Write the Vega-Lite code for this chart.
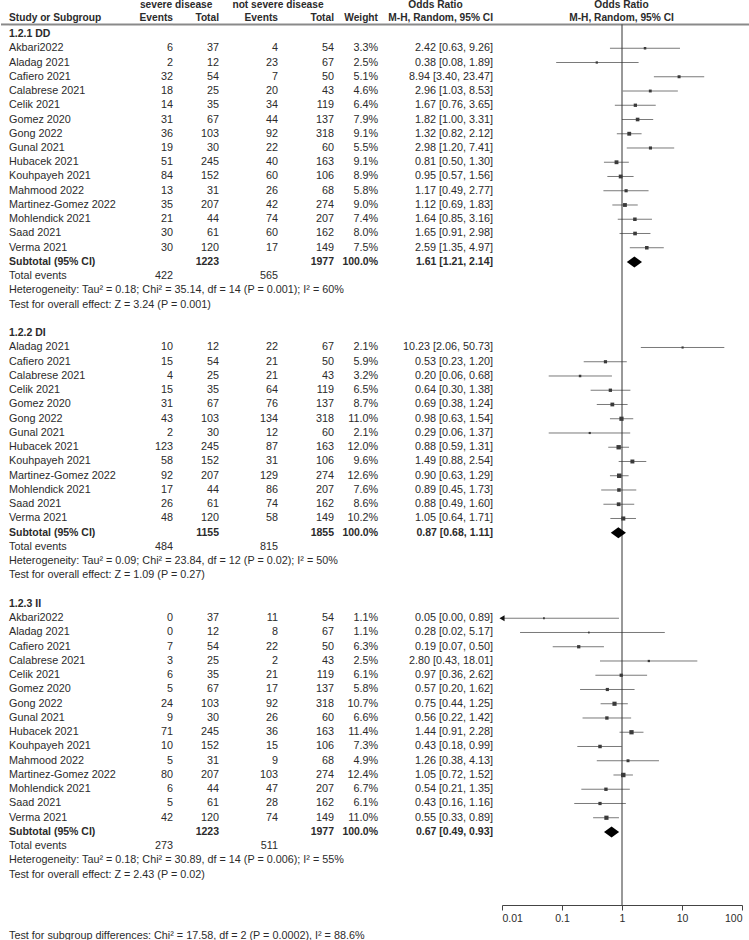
{
"$schema": "https://vega.github.io/schema/vega-lite/v6.json",
"padding": 0,
"autosize": {"type": "pad"},
"spacing": 0,
"bounds": "flush",
"config": {"view": {"stroke": null}, "text": {"font": "Liberation Sans", "fontSize": 10.8, "fill": "#2b2b2b", "baseline": "middle"}},
"datasets": {
"one": [{}],
"groups": [{"row": 0, "label": "1.2.1 DD"}, {"row": 21, "label": "1.2.2 DI"}, {"row": 40, "label": "1.2.3 II"}],
"studies": [
{"row":1,"study":"Akbari2022","e1":6,"t1":37,"e2":4,"t2":54,"w":3.3,"or":2.42,"lo":0.63,"hi":9.26},
{"row":2,"study":"Aladag 2021","e1":2,"t1":12,"e2":23,"t2":67,"w":2.5,"or":0.38,"lo":0.08,"hi":1.89},
{"row":3,"study":"Cafiero 2021","e1":32,"t1":54,"e2":7,"t2":50,"w":5.1,"or":8.94,"lo":3.40,"hi":23.47},
{"row":4,"study":"Calabrese 2021","e1":18,"t1":25,"e2":20,"t2":43,"w":4.6,"or":2.96,"lo":1.03,"hi":8.53},
{"row":5,"study":"Celik 2021","e1":14,"t1":35,"e2":34,"t2":119,"w":6.4,"or":1.67,"lo":0.76,"hi":3.65},
{"row":6,"study":"Gomez 2020","e1":31,"t1":67,"e2":44,"t2":137,"w":7.9,"or":1.82,"lo":1.00,"hi":3.31},
{"row":7,"study":"Gong 2022","e1":36,"t1":103,"e2":92,"t2":318,"w":9.1,"or":1.32,"lo":0.82,"hi":2.12},
{"row":8,"study":"Gunal 2021","e1":19,"t1":30,"e2":22,"t2":60,"w":5.5,"or":2.98,"lo":1.20,"hi":7.41},
{"row":9,"study":"Hubacek 2021","e1":51,"t1":245,"e2":40,"t2":163,"w":9.1,"or":0.81,"lo":0.50,"hi":1.30},
{"row":10,"study":"Kouhpayeh 2021","e1":84,"t1":152,"e2":60,"t2":106,"w":8.9,"or":0.95,"lo":0.57,"hi":1.56},
{"row":11,"study":"Mahmood 2022","e1":13,"t1":31,"e2":26,"t2":68,"w":5.8,"or":1.17,"lo":0.49,"hi":2.77},
{"row":12,"study":"Martinez-Gomez 2022","e1":35,"t1":207,"e2":42,"t2":274,"w":9.0,"or":1.12,"lo":0.69,"hi":1.83},
{"row":13,"study":"Mohlendick 2021","e1":21,"t1":44,"e2":74,"t2":207,"w":7.4,"or":1.64,"lo":0.85,"hi":3.16},
{"row":14,"study":"Saad 2021","e1":30,"t1":61,"e2":60,"t2":162,"w":8.0,"or":1.65,"lo":0.91,"hi":2.98},
{"row":15,"study":"Verma 2021","e1":30,"t1":120,"e2":17,"t2":149,"w":7.5,"or":2.59,"lo":1.35,"hi":4.97},
{"row":22,"study":"Aladag 2021","e1":10,"t1":12,"e2":22,"t2":67,"w":2.1,"or":10.23,"lo":2.06,"hi":50.73},
{"row":23,"study":"Cafiero 2021","e1":15,"t1":54,"e2":21,"t2":50,"w":5.9,"or":0.53,"lo":0.23,"hi":1.20},
{"row":24,"study":"Calabrese 2021","e1":4,"t1":25,"e2":21,"t2":43,"w":3.2,"or":0.20,"lo":0.06,"hi":0.68},
{"row":25,"study":"Celik 2021","e1":15,"t1":35,"e2":64,"t2":119,"w":6.5,"or":0.64,"lo":0.30,"hi":1.38},
{"row":26,"study":"Gomez 2020","e1":31,"t1":67,"e2":76,"t2":137,"w":8.7,"or":0.69,"lo":0.38,"hi":1.24},
{"row":27,"study":"Gong 2022","e1":43,"t1":103,"e2":134,"t2":318,"w":11.0,"or":0.98,"lo":0.63,"hi":1.54},
{"row":28,"study":"Gunal 2021","e1":2,"t1":30,"e2":12,"t2":60,"w":2.1,"or":0.29,"lo":0.06,"hi":1.37},
{"row":29,"study":"Hubacek 2021","e1":123,"t1":245,"e2":87,"t2":163,"w":12.0,"or":0.88,"lo":0.59,"hi":1.31},
{"row":30,"study":"Kouhpayeh 2021","e1":58,"t1":152,"e2":31,"t2":106,"w":9.6,"or":1.49,"lo":0.88,"hi":2.54},
{"row":31,"study":"Martinez-Gomez 2022","e1":92,"t1":207,"e2":129,"t2":274,"w":12.6,"or":0.90,"lo":0.63,"hi":1.29},
{"row":32,"study":"Mohlendick 2021","e1":17,"t1":44,"e2":86,"t2":207,"w":7.6,"or":0.89,"lo":0.45,"hi":1.73},
{"row":33,"study":"Saad 2021","e1":26,"t1":61,"e2":74,"t2":162,"w":8.6,"or":0.88,"lo":0.49,"hi":1.60},
{"row":34,"study":"Verma 2021","e1":48,"t1":120,"e2":58,"t2":149,"w":10.2,"or":1.05,"lo":0.64,"hi":1.71},
{"row":41,"study":"Akbari2022","e1":0,"t1":37,"e2":11,"t2":54,"w":1.1,"or":0.05,"lo":0.003,"hi":0.89},
{"row":42,"study":"Aladag 2021","e1":0,"t1":12,"e2":8,"t2":67,"w":1.1,"or":0.28,"lo":0.02,"hi":5.17},
{"row":43,"study":"Cafiero 2021","e1":7,"t1":54,"e2":22,"t2":50,"w":6.3,"or":0.19,"lo":0.07,"hi":0.50},
{"row":44,"study":"Calabrese 2021","e1":3,"t1":25,"e2":2,"t2":43,"w":2.5,"or":2.80,"lo":0.43,"hi":18.01},
{"row":45,"study":"Celik 2021","e1":6,"t1":35,"e2":21,"t2":119,"w":6.1,"or":0.97,"lo":0.36,"hi":2.62},
{"row":46,"study":"Gomez 2020","e1":5,"t1":67,"e2":17,"t2":137,"w":5.8,"or":0.57,"lo":0.20,"hi":1.62},
{"row":47,"study":"Gong 2022","e1":24,"t1":103,"e2":92,"t2":318,"w":10.7,"or":0.75,"lo":0.44,"hi":1.25},
{"row":48,"study":"Gunal 2021","e1":9,"t1":30,"e2":26,"t2":60,"w":6.6,"or":0.56,"lo":0.22,"hi":1.42},
{"row":49,"study":"Hubacek 2021","e1":71,"t1":245,"e2":36,"t2":163,"w":11.4,"or":1.44,"lo":0.91,"hi":2.28},
{"row":50,"study":"Kouhpayeh 2021","e1":10,"t1":152,"e2":15,"t2":106,"w":7.3,"or":0.43,"lo":0.18,"hi":0.99},
{"row":51,"study":"Mahmood 2022","e1":5,"t1":31,"e2":9,"t2":68,"w":4.9,"or":1.26,"lo":0.38,"hi":4.13},
{"row":52,"study":"Martinez-Gomez 2022","e1":80,"t1":207,"e2":103,"t2":274,"w":12.4,"or":1.05,"lo":0.72,"hi":1.52},
{"row":53,"study":"Mohlendick 2021","e1":6,"t1":44,"e2":47,"t2":207,"w":6.7,"or":0.54,"lo":0.21,"hi":1.35},
{"row":54,"study":"Saad 2021","e1":5,"t1":61,"e2":28,"t2":162,"w":6.1,"or":0.43,"lo":0.16,"hi":1.16},
{"row":55,"study":"Verma 2021","e1":42,"t1":120,"e2":74,"t2":149,"w":11.0,"or":0.55,"lo":0.33,"hi":0.89}
],
"subtotals": [
{"row":16,"t1":1223,"t2":1977,"w":100,"or":1.61,"lo":1.21,"hi":2.14},
{"row":35,"t1":1155,"t2":1855,"w":100,"or":0.87,"lo":0.68,"hi":1.11},
{"row":56,"t1":1223,"t2":1977,"w":100,"or":0.67,"lo":0.49,"hi":0.93}
],
"totals": [
{"row":17,"e1":422,"e2":565},
{"row":36,"e1":484,"e2":815},
{"row":57,"e1":273,"e2":511}
],
"notes": [
{"row":17,"text":"Total events"},
{"row":18,"text":"Heterogeneity: Tau² = 0.18; Chi² = 35.14, df = 14 (P = 0.001); I² = 60%"},
{"row":19,"text":"Test for overall effect: Z = 3.24 (P = 0.001)"},
{"row":36,"text":"Total events"},
{"row":37,"text":"Heterogeneity: Tau² = 0.09; Chi² = 23.84, df = 12 (P = 0.02); I² = 50%"},
{"row":38,"text":"Test for overall effect: Z = 1.09 (P = 0.27)"},
{"row":57,"text":"Total events"},
{"row":58,"text":"Heterogeneity: Tau² = 0.18; Chi² = 30.89, df = 14 (P = 0.006); I² = 55%"},
{"row":59,"text":"Test for overall effect: Z = 2.43 (P = 0.02)"},
{"row":63.3,"text":"Test for subgroup differences: Chi² = 17.58, df = 2 (P = 0.0002), I² = 88.6%"}
]
},
"data": {"name": "one"},
"hconcat": [
{"width": 8, "height": 905, "layer": [
 {"mark": {"type": "rule", "color": "#8a8a8a", "strokeWidth": 2}, "encoding": {"y": {"datum": -0.67, "type": "quantitative", "scale": {"domain": [-2.386, 61.123], "reverse": true, "nice": false, "zero": false}, "axis": null}}}
]},
{"width": 132, "height": 905, "layer": [
 {"mark": {"type": "rule", "color": "#8a8a8a", "strokeWidth": 2}, "encoding": {"y": {"datum": -0.67, "type": "quantitative", "scale": {"domain": [-2.386, 61.123], "reverse": true, "nice": false, "zero": false}, "axis": null}}},
 {"mark": {"type": "text", "text": "Study or Subgroup", "align": "left", "fontWeight": "bold", "fontSize": 10.2}, "encoding": {"x": {"datum": 0, "type": "quantitative", "scale": {"domain": [0, 1], "nice": false, "zero": false}, "axis": null}, "y": {"datum": -1.09, "type": "quantitative", "scale": {"domain": [-2.386, 61.123], "reverse": true, "nice": false, "zero": false}, "axis": null}}},
 {"data": {"name": "groups"}, "mark": {"type": "text", "align": "left", "fontWeight": "bold", "fontSize": 10.5}, "encoding": {"text": {"field": "label"}, "x": {"datum": 0, "type": "quantitative", "scale": {"domain": [0, 1], "nice": false, "zero": false}, "axis": null}, "y": {"field": "row", "type": "quantitative", "scale": {"domain": [-2.386, 61.123], "reverse": true, "nice": false, "zero": false}, "axis": null}}},
 {"data": {"name": "studies"}, "mark": {"type": "text", "align": "left"}, "encoding": {"text": {"field": "study"}, "x": {"datum": 0, "type": "quantitative", "scale": {"domain": [0, 1], "nice": false, "zero": false}, "axis": null}, "y": {"field": "row", "type": "quantitative", "scale": {"domain": [-2.386, 61.123], "reverse": true, "nice": false, "zero": false}, "axis": null}}},
 {"data": {"name": "subtotals"}, "mark": {"type": "text", "align": "left", "fontWeight": "bold", "fontSize": 10.5, "text": "Subtotal (95% CI)"}, "encoding": {"x": {"datum": 0, "type": "quantitative", "scale": {"domain": [0, 1], "nice": false, "zero": false}, "axis": null}, "y": {"field": "row", "type": "quantitative", "scale": {"domain": [-2.386, 61.123], "reverse": true, "nice": false, "zero": false}, "axis": null}}},
 {"data": {"name": "notes"}, "mark": {"type": "text", "align": "left"}, "encoding": {"text": {"field": "text"}, "x": {"datum": 0, "type": "quantitative", "scale": {"domain": [0, 1], "nice": false, "zero": false}, "axis": null}, "y": {"field": "row", "type": "quantitative", "scale": {"domain": [-2.386, 61.123], "reverse": true, "nice": false, "zero": false}, "axis": null}}}
]},
{"width": 32, "height": 905, "layer": [
 {"mark": {"type": "rule", "color": "#8a8a8a", "strokeWidth": 2}, "encoding": {"y": {"datum": -0.67, "type": "quantitative", "scale": {"domain": [-2.386, 61.123], "reverse": true, "nice": false, "zero": false}, "axis": null}}},
 {"mark": {"type": "text", "text": "Events", "align": "right", "fontWeight": "bold", "fontSize": 10.2}, "encoding": {"x": {"datum": 1, "type": "quantitative", "scale": {"domain": [0, 1], "nice": false, "zero": false}, "axis": null}, "y": {"datum": -1.09, "type": "quantitative", "scale": {"domain": [-2.386, 61.123], "reverse": true, "nice": false, "zero": false}, "axis": null}}},
 {"mark": {"type": "text", "text": "severe disease", "align": "center", "fontWeight": "bold", "fontSize": 10.2}, "encoding": {"x": {"datum": 1.1, "type": "quantitative", "scale": {"domain": [0, 1], "nice": false, "zero": false}, "axis": null}, "y": {"datum": -2.03, "type": "quantitative", "scale": {"domain": [-2.386, 61.123], "reverse": true, "nice": false, "zero": false}, "axis": null}}},
 {"data": {"name": "studies"}, "mark": {"type": "text", "align": "right"}, "encoding": {"text": {"field": "e1"}, "x": {"datum": 1, "type": "quantitative", "scale": {"domain": [0, 1], "nice": false, "zero": false}, "axis": null}, "y": {"field": "row", "type": "quantitative", "scale": {"domain": [-2.386, 61.123], "reverse": true, "nice": false, "zero": false}, "axis": null}}},
 {"data": {"name": "totals"}, "mark": {"type": "text", "align": "right"}, "encoding": {"text": {"field": "e1"}, "x": {"datum": 1, "type": "quantitative", "scale": {"domain": [0, 1], "nice": false, "zero": false}, "axis": null}, "y": {"field": "row", "type": "quantitative", "scale": {"domain": [-2.386, 61.123], "reverse": true, "nice": false, "zero": false}, "axis": null}}}
]},
{"width": 46, "height": 905, "layer": [
 {"mark": {"type": "rule", "color": "#8a8a8a", "strokeWidth": 2}, "encoding": {"y": {"datum": -0.67, "type": "quantitative", "scale": {"domain": [-2.386, 61.123], "reverse": true, "nice": false, "zero": false}, "axis": null}}},
 {"mark": {"type": "text", "text": "Total", "align": "right", "fontWeight": "bold", "fontSize": 10.2}, "encoding": {"x": {"datum": 1, "type": "quantitative", "scale": {"domain": [0, 1], "nice": false, "zero": false}, "axis": null}, "y": {"datum": -1.09, "type": "quantitative", "scale": {"domain": [-2.386, 61.123], "reverse": true, "nice": false, "zero": false}, "axis": null}}},
 {"data": {"name": "studies"}, "mark": {"type": "text", "align": "right"}, "encoding": {"text": {"field": "t1"}, "x": {"datum": 1, "type": "quantitative", "scale": {"domain": [0, 1], "nice": false, "zero": false}, "axis": null}, "y": {"field": "row", "type": "quantitative", "scale": {"domain": [-2.386, 61.123], "reverse": true, "nice": false, "zero": false}, "axis": null}}},
 {"data": {"name": "subtotals"}, "mark": {"type": "text", "align": "right", "fontWeight": "bold", "fontSize": 10.5}, "encoding": {"text": {"field": "t1"}, "x": {"datum": 1, "type": "quantitative", "scale": {"domain": [0, 1], "nice": false, "zero": false}, "axis": null}, "y": {"field": "row", "type": "quantitative", "scale": {"domain": [-2.386, 61.123], "reverse": true, "nice": false, "zero": false}, "axis": null}}}
]},
{"width": 59, "height": 905, "layer": [
 {"mark": {"type": "rule", "color": "#8a8a8a", "strokeWidth": 2}, "encoding": {"y": {"datum": -0.67, "type": "quantitative", "scale": {"domain": [-2.386, 61.123], "reverse": true, "nice": false, "zero": false}, "axis": null}}},
 {"mark": {"type": "text", "text": "Events", "align": "right", "fontWeight": "bold", "fontSize": 10.2}, "encoding": {"x": {"datum": 1, "type": "quantitative", "scale": {"domain": [0, 1], "nice": false, "zero": false}, "axis": null}, "y": {"datum": -1.09, "type": "quantitative", "scale": {"domain": [-2.386, 61.123], "reverse": true, "nice": false, "zero": false}, "axis": null}}},
 {"mark": {"type": "text", "text": "not severe disease", "align": "center", "fontWeight": "bold", "fontSize": 10.2}, "encoding": {"x": {"datum": 1, "type": "quantitative", "scale": {"domain": [0, 1], "nice": false, "zero": false}, "axis": null}, "y": {"datum": -2.03, "type": "quantitative", "scale": {"domain": [-2.386, 61.123], "reverse": true, "nice": false, "zero": false}, "axis": null}}},
 {"data": {"name": "studies"}, "mark": {"type": "text", "align": "right"}, "encoding": {"text": {"field": "e2"}, "x": {"datum": 1, "type": "quantitative", "scale": {"domain": [0, 1], "nice": false, "zero": false}, "axis": null}, "y": {"field": "row", "type": "quantitative", "scale": {"domain": [-2.386, 61.123], "reverse": true, "nice": false, "zero": false}, "axis": null}}},
 {"data": {"name": "totals"}, "mark": {"type": "text", "align": "right"}, "encoding": {"text": {"field": "e2"}, "x": {"datum": 1, "type": "quantitative", "scale": {"domain": [0, 1], "nice": false, "zero": false}, "axis": null}, "y": {"field": "row", "type": "quantitative", "scale": {"domain": [-2.386, 61.123], "reverse": true, "nice": false, "zero": false}, "axis": null}}}
]},
{"width": 56, "height": 905, "layer": [
 {"mark": {"type": "rule", "color": "#8a8a8a", "strokeWidth": 2}, "encoding": {"y": {"datum": -0.67, "type": "quantitative", "scale": {"domain": [-2.386, 61.123], "reverse": true, "nice": false, "zero": false}, "axis": null}}},
 {"mark": {"type": "text", "text": "Total", "align": "right", "fontWeight": "bold", "fontSize": 10.2}, "encoding": {"x": {"datum": 1, "type": "quantitative", "scale": {"domain": [0, 1], "nice": false, "zero": false}, "axis": null}, "y": {"datum": -1.09, "type": "quantitative", "scale": {"domain": [-2.386, 61.123], "reverse": true, "nice": false, "zero": false}, "axis": null}}},
 {"data": {"name": "studies"}, "mark": {"type": "text", "align": "right"}, "encoding": {"text": {"field": "t2"}, "x": {"datum": 1, "type": "quantitative", "scale": {"domain": [0, 1], "nice": false, "zero": false}, "axis": null}, "y": {"field": "row", "type": "quantitative", "scale": {"domain": [-2.386, 61.123], "reverse": true, "nice": false, "zero": false}, "axis": null}}},
 {"data": {"name": "subtotals"}, "mark": {"type": "text", "align": "right", "fontWeight": "bold", "fontSize": 10.5}, "encoding": {"text": {"field": "t2"}, "x": {"datum": 1, "type": "quantitative", "scale": {"domain": [0, 1], "nice": false, "zero": false}, "axis": null}, "y": {"field": "row", "type": "quantitative", "scale": {"domain": [-2.386, 61.123], "reverse": true, "nice": false, "zero": false}, "axis": null}}}
]},
{"width": 44, "height": 905, "layer": [
 {"mark": {"type": "rule", "color": "#8a8a8a", "strokeWidth": 2}, "encoding": {"y": {"datum": -0.67, "type": "quantitative", "scale": {"domain": [-2.386, 61.123], "reverse": true, "nice": false, "zero": false}, "axis": null}}},
 {"mark": {"type": "text", "text": "Weight", "align": "right", "fontWeight": "bold", "fontSize": 10.2}, "encoding": {"x": {"datum": 1, "type": "quantitative", "scale": {"domain": [0, 1], "nice": false, "zero": false}, "axis": null}, "y": {"datum": -1.09, "type": "quantitative", "scale": {"domain": [-2.386, 61.123], "reverse": true, "nice": false, "zero": false}, "axis": null}}},
 {"data": {"name": "studies"}, "transform": [{"calculate": "format(datum.w, '.1f') + '%'", "as": "wt"}], "mark": {"type": "text", "align": "right"}, "encoding": {"text": {"field": "wt"}, "x": {"datum": 1, "type": "quantitative", "scale": {"domain": [0, 1], "nice": false, "zero": false}, "axis": null}, "y": {"field": "row", "type": "quantitative", "scale": {"domain": [-2.386, 61.123], "reverse": true, "nice": false, "zero": false}, "axis": null}}},
 {"data": {"name": "subtotals"}, "transform": [{"calculate": "format(datum.w, '.1f') + '%'", "as": "wt"}], "mark": {"type": "text", "align": "right", "fontWeight": "bold", "fontSize": 10.5}, "encoding": {"text": {"field": "wt"}, "x": {"datum": 1, "type": "quantitative", "scale": {"domain": [0, 1], "nice": false, "zero": false}, "axis": null}, "y": {"field": "row", "type": "quantitative", "scale": {"domain": [-2.386, 61.123], "reverse": true, "nice": false, "zero": false}, "axis": null}}}
]},
{"width": 115, "height": 905, "layer": [
 {"mark": {"type": "rule", "color": "#8a8a8a", "strokeWidth": 2}, "encoding": {"y": {"datum": -0.67, "type": "quantitative", "scale": {"domain": [-2.386, 61.123], "reverse": true, "nice": false, "zero": false}, "axis": null}}},
 {"mark": {"type": "text", "text": "Odds Ratio", "align": "center", "fontWeight": "bold", "fontSize": 10.2}, "encoding": {"y": {"datum": -2.03, "type": "quantitative", "scale": {"domain": [-2.386, 61.123], "reverse": true, "nice": false, "zero": false}, "axis": null}}},
 {"mark": {"type": "text", "text": "M-H, Random, 95% CI", "align": "right", "fontWeight": "bold", "fontSize": 10.2}, "encoding": {"x": {"datum": 1, "type": "quantitative", "scale": {"domain": [0, 1], "nice": false, "zero": false}, "axis": null}, "y": {"datum": -1.09, "type": "quantitative", "scale": {"domain": [-2.386, 61.123], "reverse": true, "nice": false, "zero": false}, "axis": null}}},
 {"data": {"name": "studies"}, "transform": [{"calculate": "format(datum.or, '.2f') + ' [' + format(datum.lo, '.2f') + ', ' + format(datum.hi, '.2f') + ']'", "as": "ci"}], "mark": {"type": "text", "align": "right"}, "encoding": {"text": {"field": "ci"}, "x": {"datum": 1, "type": "quantitative", "scale": {"domain": [0, 1], "nice": false, "zero": false}, "axis": null}, "y": {"field": "row", "type": "quantitative", "scale": {"domain": [-2.386, 61.123], "reverse": true, "nice": false, "zero": false}, "axis": null}}},
 {"data": {"name": "subtotals"}, "transform": [{"calculate": "format(datum.or, '.2f') + ' [' + format(datum.lo, '.2f') + ', ' + format(datum.hi, '.2f') + ']'", "as": "ci"}], "mark": {"type": "text", "align": "right", "fontWeight": "bold", "fontSize": 10.5}, "encoding": {"text": {"field": "ci"}, "x": {"datum": 1, "type": "quantitative", "scale": {"domain": [0, 1], "nice": false, "zero": false}, "axis": null}, "y": {"field": "row", "type": "quantitative", "scale": {"domain": [-2.386, 61.123], "reverse": true, "nice": false, "zero": false}, "axis": null}}}
]},
{"width": 257, "height": 905, "layer": [
 {"mark": {"type": "rule", "color": "#8a8a8a", "strokeWidth": 2}, "encoding": {"y": {"datum": -0.67, "type": "quantitative", "scale": {"domain": [-2.386, 61.123], "reverse": true, "nice": false, "zero": false}, "axis": null}}},
 {"mark": {"type": "text", "text": "Odds Ratio", "align": "center", "fontWeight": "bold", "fontSize": 10.2}, "encoding": {"y": {"datum": -2.03, "type": "quantitative", "scale": {"domain": [-2.386, 61.123], "reverse": true, "nice": false, "zero": false}, "axis": null}}},
 {"mark": {"type": "text", "text": "M-H, Random, 95% CI", "align": "center", "fontWeight": "bold", "fontSize": 10.2}, "encoding": {"y": {"datum": -1.09, "type": "quantitative", "scale": {"domain": [-2.386, 61.123], "reverse": true, "nice": false, "zero": false}, "axis": null}}},
 {"data": {"name": "studies"}, "mark": {"type": "rule", "color": "#7a7a7a", "strokeWidth": 1}, "encoding": {
   "x": {"field": "lo", "type": "quantitative", "scale": {"type": "log", "domain": [0.01, 100], "range": [9, 249], "clamp": true, "nice": false}, "axis": {"values": [0.01, 0.1, 1, 10, 100], "format": "~g", "grid": false, "title": null, "domainColor": "#444", "tickColor": "#444", "labelColor": "#2b2b2b", "labelFont": "Liberation Sans", "labelFontSize": 10.5, "tickSize": 5, "labelPadding": 3, "labelFlush": true}},
   "x2": {"field": "hi"},
   "y": {"field": "row", "type": "quantitative", "scale": {"domain": [-2.386, 61.123], "reverse": true, "nice": false, "zero": false}, "axis": null}}},
 {"mark": {"type": "rule", "color": "#333333", "strokeWidth": 1}, "encoding": {
   "x": {"datum": 1, "type": "quantitative", "scale": {"type": "log", "domain": [0.01, 100], "range": [9, 249], "clamp": true, "nice": false}, "axis": {"values": [0.01, 0.1, 1, 10, 100], "format": "~g", "grid": false, "title": null, "domainColor": "#444", "tickColor": "#444", "labelColor": "#2b2b2b", "labelFont": "Liberation Sans", "labelFontSize": 10.5, "tickSize": 5, "labelPadding": 3, "labelFlush": true}},
   "y": {"datum": -0.67, "type": "quantitative", "scale": {"domain": [-2.386, 61.123], "reverse": true, "nice": false, "zero": false}, "axis": null},
   "y2": {"datum": 61.123}}},
 {"data": {"name": "studies"}, "mark": {"type": "point", "shape": "square", "filled": true, "color": "#3a3a3a", "opacity": 1}, "encoding": {
   "x": {"field": "or", "type": "quantitative", "scale": {"type": "log", "domain": [0.01, 100], "range": [9, 249], "clamp": true, "nice": false}, "axis": {"values": [0.01, 0.1, 1, 10, 100], "format": "~g", "grid": false, "title": null, "domainColor": "#444", "tickColor": "#444", "labelColor": "#2b2b2b", "labelFont": "Liberation Sans", "labelFontSize": 10.5, "tickSize": 5, "labelPadding": 3, "labelFlush": true}},
   "y": {"field": "row", "type": "quantitative", "scale": {"domain": [-2.386, 61.123], "reverse": true, "nice": false, "zero": false}, "axis": null},
   "size": {"field": "w", "type": "quantitative", "scale": {"domain": [1, 12.6], "range": [3, 20]}, "legend": null}}},
 {"data": {"name": "studies"}, "transform": [{"filter": "datum.lo < 0.01"}], "mark": {"type": "point", "shape": "triangle-left", "filled": true, "color": "#111111", "opacity": 1, "size": 35}, "encoding": {
   "x": {"field": "lo", "type": "quantitative", "scale": {"type": "log", "domain": [0.01, 100], "range": [9, 249], "clamp": true, "nice": false}, "axis": {"values": [0.01, 0.1, 1, 10, 100], "format": "~g", "grid": false, "title": null, "domainColor": "#444", "tickColor": "#444", "labelColor": "#2b2b2b", "labelFont": "Liberation Sans", "labelFontSize": 10.5, "tickSize": 5, "labelPadding": 3, "labelFlush": true}},
   "y": {"field": "row", "type": "quantitative", "scale": {"domain": [-2.386, 61.123], "reverse": true, "nice": false, "zero": false}, "axis": null}}},
 {"data": {"name": "subtotals"}, "mark": {"type": "point", "shape": "M-1,0L0,-0.72L1,0L0,0.72Z", "filled": true, "color": "#000000", "opacity": 1, "size": 230}, "encoding": {
   "x": {"field": "or", "type": "quantitative", "scale": {"type": "log", "domain": [0.01, 100], "range": [9, 249], "clamp": true, "nice": false}, "axis": {"values": [0.01, 0.1, 1, 10, 100], "format": "~g", "grid": false, "title": null, "domainColor": "#444", "tickColor": "#444", "labelColor": "#2b2b2b", "labelFont": "Liberation Sans", "labelFontSize": 10.5, "tickSize": 5, "labelPadding": 3, "labelFlush": true}},
   "y": {"field": "row", "type": "quantitative", "scale": {"domain": [-2.386, 61.123], "reverse": true, "nice": false, "zero": false}, "axis": null}}}
]}
]
}
